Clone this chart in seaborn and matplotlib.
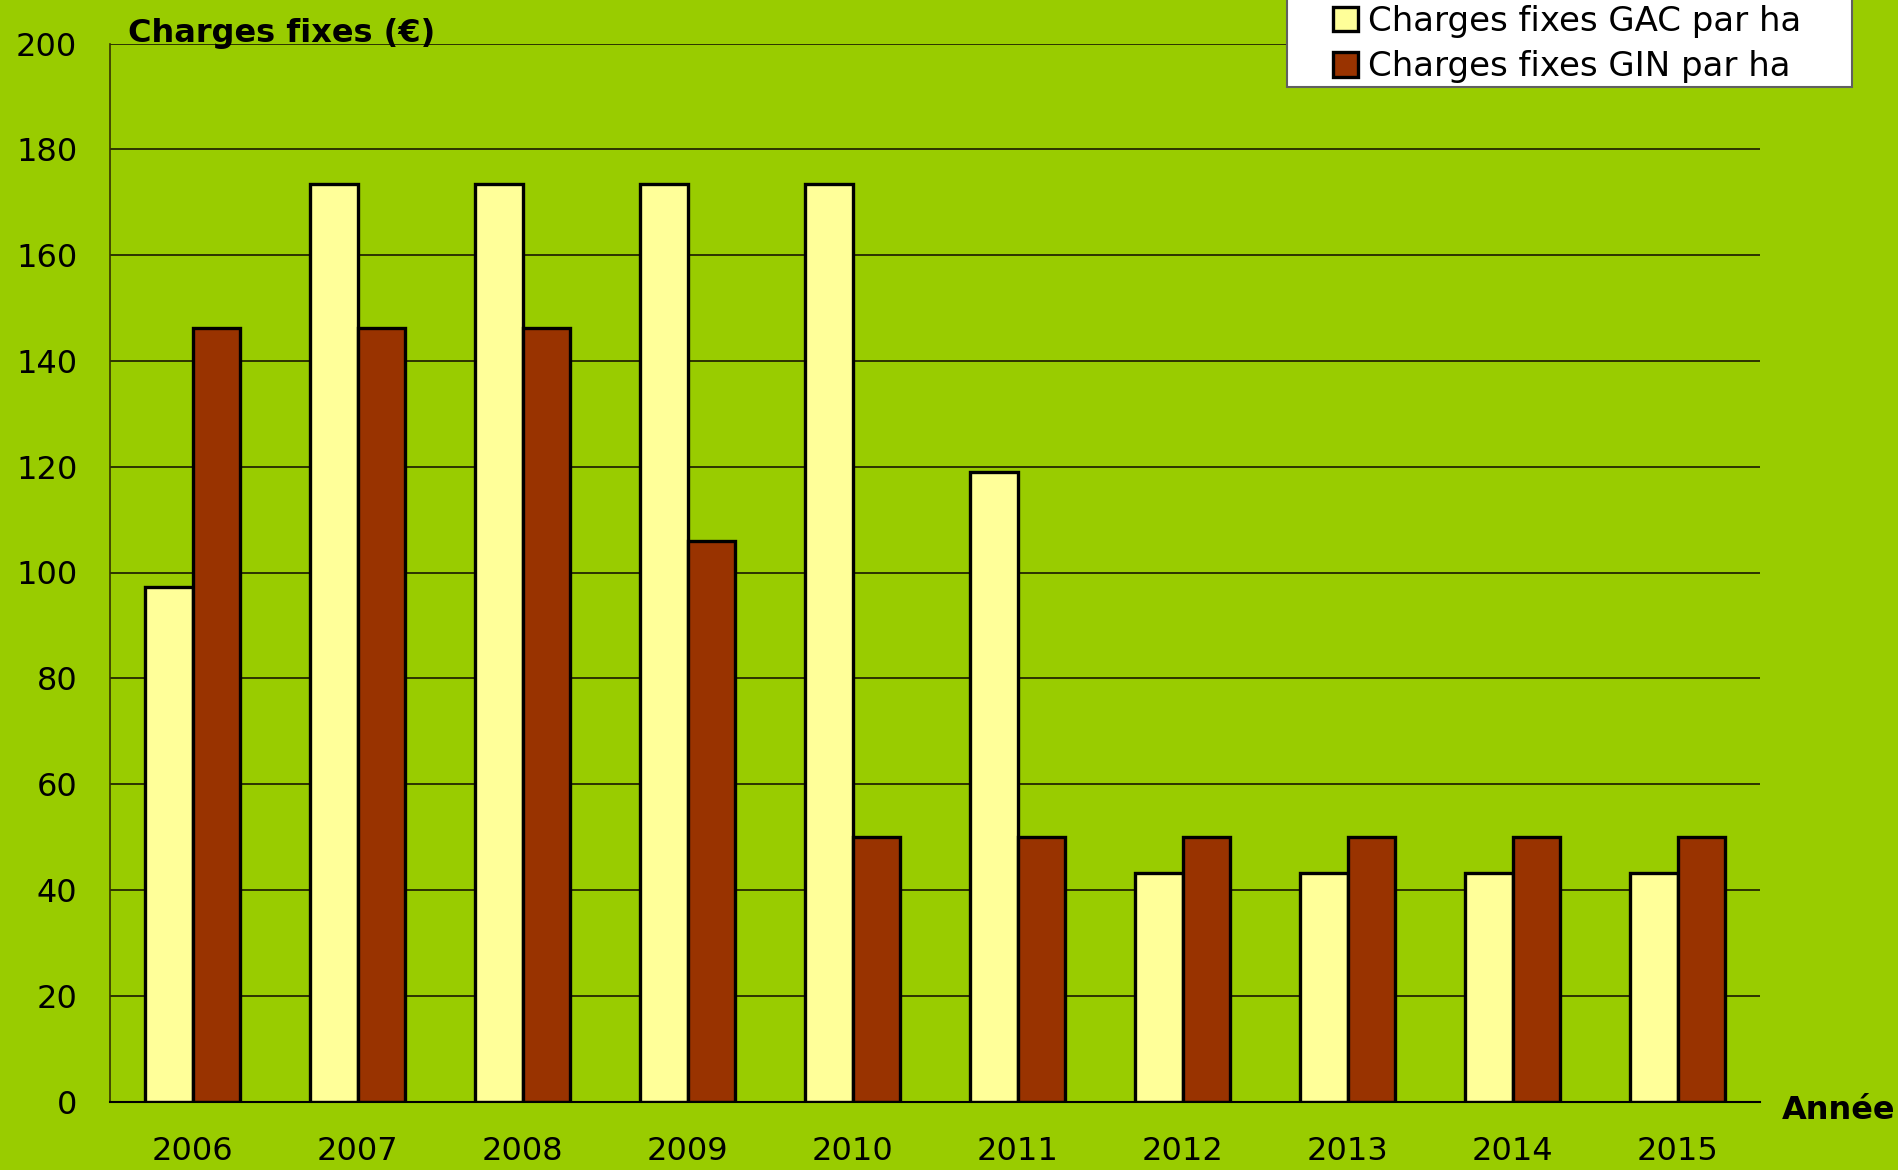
import matplotlib
matplotlib.use("Agg")
import matplotlib.pyplot as plt
import matplotlib.patches as mpatches
import seaborn as sns
import pandas as pd
import numpy as np

years = ["2006", "2007", "2008", "2009", "2010", "2011", "2012", "2013", "2014", "2015"]
gac = [97.3, 173.4, 173.4, 173.4, 173.4, 119.0, 43.2, 43.2, 43.2, 43.2]
gin = [146.2, 146.2, 146.2, 106.0, 50.0, 50.0, 50.0, 50.0, 50.0, 50.0]
series_names = ["Charges fixes GAC par ha", "Charges fixes GIN par ha"]
colors = ["#FFFF99", "#993300"]
yticks = [0, 20, 40, 60, 80, 100, 120, 140, 160, 180, 200]

df = pd.DataFrame({
    "Année": years * 2,
    "valeur": gac + gin,
    "série": [series_names[0]] * len(years) + [series_names[1]] * len(years),
})

sns.set_style("white")
plt.rcParams["font.family"] = ["DejaVu Sans"]
plt.rcParams["text.color"] = "black"
plt.rcParams["xtick.color"] = "black"
plt.rcParams["ytick.color"] = "black"

FS = 23
BG = "#99CC00"
W, H = 1898, 1170
fig = plt.figure(figsize=(W / 100, H / 100), dpi=100, facecolor=BG)
ax = fig.add_axes([110 / W, 1 - 1101.5 / H, (1760 - 110) / W, (1101.5 - 43.5) / H])
ax.set_facecolor(BG)

sns.barplot(data=df, x="Année", y="valeur", hue="série", palette=colors,
            width=0.576, gap=0, edgecolor="black", linewidth=2.4,
            saturation=1, ax=ax, legend=True, zorder=3)

ax.set_ylim(0, 200)
ax.set_xlim(-0.5, len(years) - 0.5)
ax.set_yticks(yticks)
ax.set_yticklabels([str(v) for v in yticks], fontsize=FS)
ax.set_xticks(range(len(years)))
ax.set_xticklabels(years, fontsize=FS)
ax.set_xticks(np.arange(-0.5, len(years), 1.0), minor=True)
ax.tick_params(axis="x", which="major", length=0, pad=25, labelcolor="black")
ax.tick_params(axis="x", which="minor", length=7, width=1.2, color="#333300", direction="out")
ax.tick_params(axis="y", which="major", length=8.5, width=1.2, color="#333300",
               direction="out", pad=15, labelcolor="black")
ax.set_xlabel("")
ax.set_ylabel("")

for v in yticks[1:]:
    ax.axhline(v, color="#1a1a00", linewidth=1.2, zorder=1)

for s in ["top", "right"]:
    ax.spines[s].set_visible(False)
ax.spines["left"].set_color("#333300")
ax.spines["left"].set_linewidth(1.2)
ax.spines["bottom"].set_color("black")
ax.spines["bottom"].set_linewidth(1.5)
ax.spines["bottom"].set_zorder(5)

# legend box
box = mpatches.Rectangle((1287 / W, 1 - 87 / H), (1852 - 1287) / W, 100 / H,
                         transform=fig.transFigure, facecolor="white",
                         edgecolor="#606060", linewidth=1.5, zorder=9, clip_on=False)
ax.add_artist(box)

LFS = 24.5
handles, labels = ax.get_legend_handles_labels()
leg = ax.legend(handles, labels, loc="upper left",
                bbox_to_anchor=(1333 / W, 1 - 5 / H), bbox_transform=fig.transFigure,
                frameon=False, fontsize=LFS, borderpad=0, borderaxespad=0,
                handlelength=0.74, handleheight=0.74, handletextpad=0.3,
                labelspacing=0.36)
leg.set_zorder(10)
for t in leg.get_texts():
    t.set_color("black")

fig.text(128 / W, 1 - 42 / H, "Charges fixes (€)", fontsize=FS, fontweight="bold",
         ha="left", va="baseline", color="black")
fig.text(1782 / W, 1 - 1119 / H, "Année", fontsize=FS, fontweight="bold",
         ha="left", va="baseline", color="black")

fig.savefig("out.png", dpi=100, facecolor=BG)
